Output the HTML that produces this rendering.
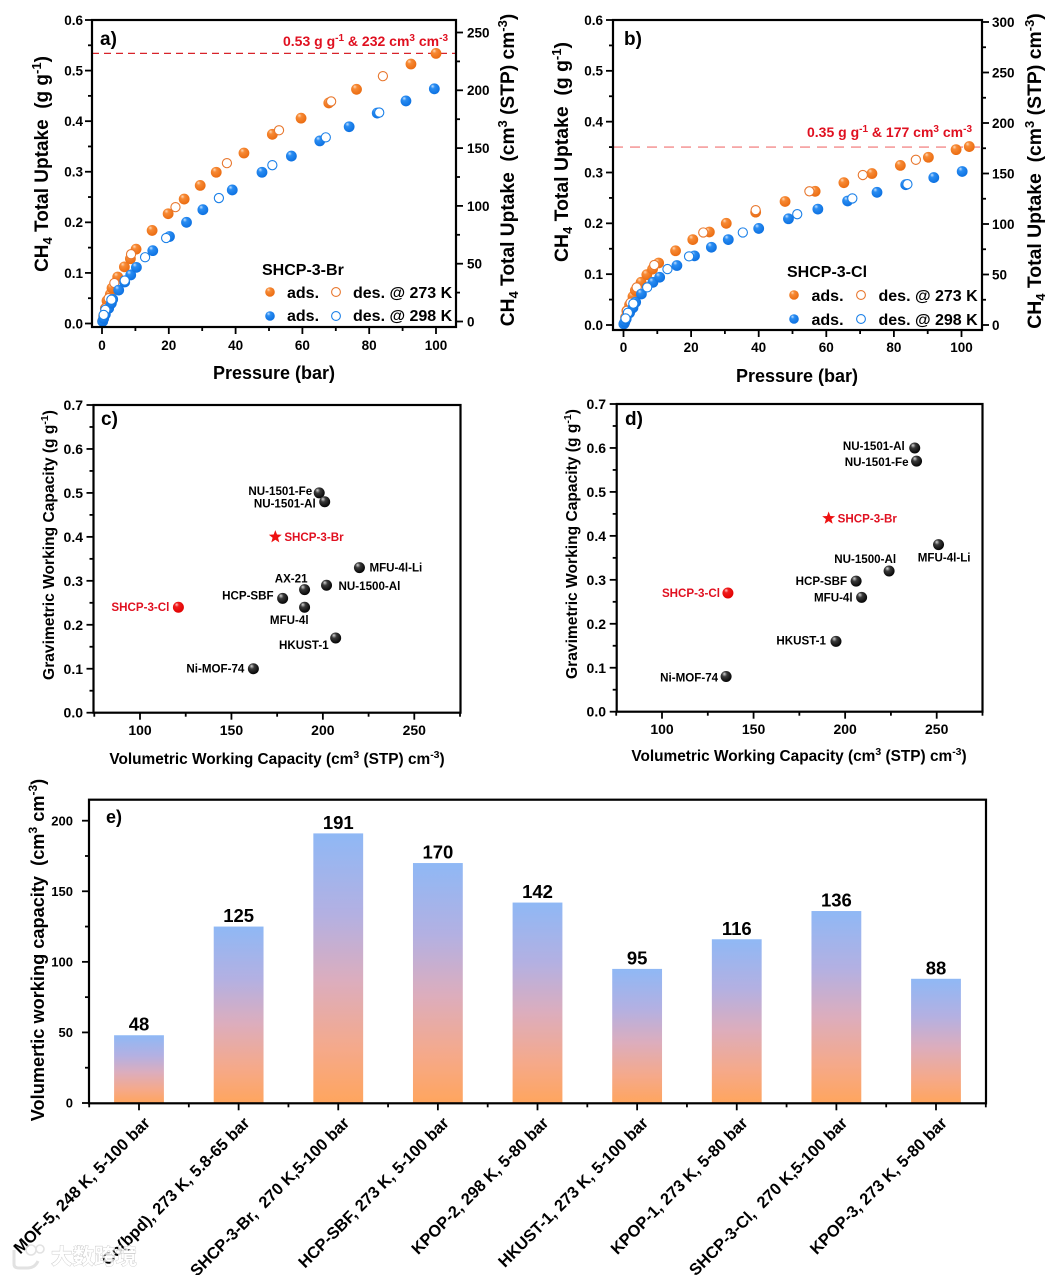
<!DOCTYPE html>
<html lang="en">
<head>
<meta charset="utf-8">
<title>CH4 uptake and working capacity charts</title>
<style>
html,body{margin:0;padding:0;background:#fff;}
body{width:1058px;height:1275px;overflow:hidden;}
svg{display:block;font-family:"Liberation Sans","Noto Sans CJK SC",sans-serif;font-weight:bold;fill:#000;}
text{white-space:pre;}
</style>
</head>
<body>
<svg id="figure" width="1058" height="1275" viewBox="0 0 1058 1275" xmlns="http://www.w3.org/2000/svg">
<defs>
<radialGradient id="ball-orange" cx="0.42" cy="0.38" r="0.65" fx="0.33" fy="0.25"><stop offset="0" stop-color="#ffd9b8"/><stop offset="0.3" stop-color="#f78a35"/><stop offset="1" stop-color="#ea6a0f"/></radialGradient>
<radialGradient id="ball-blue" cx="0.42" cy="0.38" r="0.65" fx="0.33" fy="0.25"><stop offset="0" stop-color="#c8e2ff"/><stop offset="0.3" stop-color="#2a8df2"/><stop offset="1" stop-color="#0b6fe0"/></radialGradient>
<radialGradient id="ball-black" cx="0.42" cy="0.38" r="0.65" fx="0.33" fy="0.25"><stop offset="0" stop-color="#d8d8d8"/><stop offset="0.35" stop-color="#3a3a3a"/><stop offset="1" stop-color="#000"/></radialGradient>
<radialGradient id="ball-red" cx="0.42" cy="0.38" r="0.65" fx="0.33" fy="0.25"><stop offset="0" stop-color="#ffc8c8"/><stop offset="0.3" stop-color="#f01c1c"/><stop offset="1" stop-color="#e00000"/></radialGradient>
<linearGradient id="bar-fill" x1="0" y1="0" x2="0" y2="1"><stop offset="0" stop-color="#8fb8f5"/><stop offset="0.3" stop-color="#b3b0e2"/><stop offset="0.55" stop-color="#dcadbd"/><stop offset="0.8" stop-color="#f5a98a"/><stop offset="1" stop-color="#ffa55e"/></linearGradient>
</defs>

<!-- Panel a static text -->
<text x="100" y="45" font-size="19">a)</text>
<text transform="rotate(-90 48 164)" x="48" y="164" text-anchor="middle" font-size="19">CH<tspan dy="4" font-size="13">4</tspan><tspan dy="-4"> Total Uptake  (g g</tspan><tspan dy="-7" font-size="13">-1</tspan><tspan dy="7">)</tspan></text>
<text transform="rotate(-90 514 170)" x="514" y="170" text-anchor="middle" font-size="19.2">CH<tspan dy="4" font-size="13">4</tspan><tspan dy="-4"> Total Uptake  (cm</tspan><tspan dy="-7" font-size="13">3</tspan><tspan dy="7"> (STP) cm</tspan><tspan dy="-7" font-size="13">-3</tspan><tspan dy="7">)</tspan></text>
<text x="274" y="379" text-anchor="middle" font-size="18">Pressure (bar)</text>
<text x="283" y="46" font-size="14" style="fill:#e01020">0.53 g g<tspan dy="-5" font-size="10">-1</tspan><tspan dy="5"> &amp; 232 cm</tspan><tspan dy="-5" font-size="10">3</tspan><tspan dy="5"> cm</tspan><tspan dy="-5" font-size="10">-3</tspan></text>
<g font-size="16">
<text x="262" y="275" font-size="16">SHCP-3-Br</text>
<circle cx="270" cy="292" r="4.8" fill="url(#ball-orange)"/>
<text x="287" y="298">ads.</text>
<circle cx="336" cy="292" r="4.4" fill="#fff" stroke="#e8772e" stroke-width="1.1"/>
<text x="353" y="298">des. @ 273 K</text>
<circle cx="270" cy="316" r="4.8" fill="url(#ball-blue)"/>
<text x="287" y="321">ads.</text>
<circle cx="336" cy="316" r="4.4" fill="#fff" stroke="#1b80e8" stroke-width="1.1"/>
<text x="353" y="321">des. @ 298 K</text>
</g>

<!-- Panel b static text -->
<text x="624" y="45" font-size="19">b)</text>
<text transform="rotate(-90 568 152)" x="568" y="152" text-anchor="middle" font-size="19.4">CH<tspan dy="4" font-size="13">4</tspan><tspan dy="-4"> Total Uptake  (g g</tspan><tspan dy="-7" font-size="13">-1</tspan><tspan dy="7">)</tspan></text>
<text transform="rotate(-90 1041 171)" x="1041" y="171" text-anchor="middle" font-size="19.4">CH<tspan dy="4" font-size="13">4</tspan><tspan dy="-4"> Total Uptake  (cm</tspan><tspan dy="-7" font-size="13">3</tspan><tspan dy="7"> (STP) cm</tspan><tspan dy="-7" font-size="13">-3</tspan><tspan dy="7">)</tspan></text>
<text x="797" y="382" text-anchor="middle" font-size="18">Pressure (bar)</text>
<text x="807" y="137" font-size="14" style="fill:#e01020">0.35 g g<tspan dy="-5" font-size="10">-1</tspan><tspan dy="5"> &amp; 177 cm</tspan><tspan dy="-5" font-size="10">3</tspan><tspan dy="5"> cm</tspan><tspan dy="-5" font-size="10">-3</tspan></text>
<g font-size="16">
<text x="787" y="277" font-size="16">SHCP-3-Cl</text>
<circle cx="794" cy="295" r="4.8" fill="url(#ball-orange)"/>
<text x="811.5" y="301">ads.</text>
<circle cx="861" cy="295" r="4.4" fill="#fff" stroke="#e8772e" stroke-width="1.1"/>
<text x="878.5" y="301">des. @ 273 K</text>
<circle cx="794" cy="319" r="4.8" fill="url(#ball-blue)"/>
<text x="811.5" y="325">ads.</text>
<circle cx="861" cy="319" r="4.4" fill="#fff" stroke="#1b80e8" stroke-width="1.1"/>
<text x="878.5" y="325">des. @ 298 K</text>
</g>

<!-- Panel c static text -->
<text x="101" y="425" font-size="19">c)</text>
<text transform="rotate(-90 54 545)" x="54" y="545" text-anchor="middle" font-size="15.6">Gravimetric Working Capacity (g g<tspan dy="-6" font-size="10.5">-1</tspan><tspan dy="6">)</tspan></text>
<text x="277" y="764" text-anchor="middle" font-size="15.4">Volumetric Working Capacity (cm<tspan dy="-6" font-size="10.5">3</tspan><tspan dy="6"> (STP) cm</tspan><tspan dy="-6" font-size="10.5">-3</tspan><tspan dy="6">)</tspan></text>

<!-- Panel d static text -->
<text x="625" y="425" font-size="19">d)</text>
<text transform="rotate(-90 577 544)" x="577" y="544" text-anchor="middle" font-size="15.6">Gravimetric Working Capacity (g g<tspan dy="-6" font-size="10.5">-1</tspan><tspan dy="6">)</tspan></text>
<text x="799" y="761" text-anchor="middle" font-size="15.4">Volumetric Working Capacity (cm<tspan dy="-6" font-size="10.5">3</tspan><tspan dy="6"> (STP) cm</tspan><tspan dy="-6" font-size="10.5">-3</tspan><tspan dy="6">)</tspan></text>

<!-- Panel e static text -->
<text x="106" y="823" font-size="18">e)</text>
<text transform="rotate(-90 44 950)" x="44" y="950" text-anchor="middle" font-size="18.2">Volumertic working capacity  (cm<tspan dy="-7" font-size="12">3</tspan><tspan dy="7"> cm</tspan><tspan dy="-7" font-size="12">-3</tspan><tspan dy="7">)</tspan></text>

<g id="plots"></g>

<!-- Watermark -->
<g opacity="0.85">
<path d="M14 1250 v14 q0 4 5 4 h8 q8 0 11 -7" fill="none" stroke="#ddd" stroke-width="3"/>
<circle cx="31" cy="1250" r="5" fill="none" stroke="#ddd" stroke-width="1.6"/>
<circle cx="40" cy="1249" r="4" fill="none" stroke="#ddd" stroke-width="1.6"/>
<text x="51" y="1264" font-size="21.5" style="fill:#fff;stroke:#bbb;stroke-width:0.8;paint-order:stroke">大数跨境</text>
</g>
</svg>

<script>
// ---------- Panel a values (SHCP-3-Br) ----------
const aAds273Pressure = [0.2,0.5,1,1.5,2.5,3,4.7,6.7,8.5,10.2,15,19.8,24.6,29.4,34.2,42.5,51,59.6,67.9,76.2,92.5,100];
const aAds273Uptake   = [0.005,0.015,0.03,0.045,0.058,0.07,0.092,0.112,0.128,0.147,0.184,0.217,0.246,0.273,0.299,0.337,0.374,0.406,0.436,0.463,0.513,0.534];
const aDes273Pressure = [84.1,68.6,53,37.4,22,8.7,3.7,2,1];
const aDes273Uptake   = [0.489,0.439,0.382,0.317,0.23,0.137,0.08,0.05,0.03];
const aAds298Pressure = [0.2,0.5,1,2,2.8,3.2,5,6.8,8.6,10.3,15.2,20.2,25.3,30.2,39,47.9,56.7,65.2,74,82.4,91,99.5];
const aAds298Uptake   = [0.004,0.01,0.018,0.03,0.04,0.048,0.066,0.082,0.096,0.111,0.144,0.172,0.2,0.225,0.264,0.299,0.331,0.361,0.389,0.416,0.44,0.464];
const aDes298Pressure = [83,67,51,35,19.2,12.9,6.8,2.8,1,0.5];
const aDes298Uptake   = [0.417,0.368,0.313,0.248,0.169,0.131,0.085,0.047,0.027,0.017];
const aPeakUptake = 0.534;

// ---------- Panel b values (SHCP-3-Cl) ----------
const bAds273Pressure = [0.2,0.6,1,1.8,2.8,3.5,5.2,6.9,8.6,10.4,15.4,20.5,25.4,30.4,39.1,47.8,56.7,65.2,73.5,81.9,90.2,98.4,102.3];
const bAds273Uptake   = [0.003,0.015,0.028,0.04,0.056,0.068,0.084,0.099,0.11,0.122,0.146,0.168,0.183,0.2,0.222,0.243,0.263,0.28,0.298,0.314,0.33,0.345,0.351];
const bDes273Pressure = [86.5,70.8,55,39.1,23.6,9.1,3.9,2.1,1];
const bDes273Uptake   = [0.325,0.295,0.263,0.226,0.182,0.118,0.074,0.044,0.028];
const bAds298Pressure = [0.1,0.4,0.8,1.8,2.8,3.6,5.3,8.7,10.7,15.8,21,26,31,40,48.8,57.5,66.3,75,83.5,91.8,100.2];
const bAds298Uptake   = [0.002,0.006,0.012,0.024,0.034,0.045,0.061,0.084,0.094,0.117,0.136,0.153,0.168,0.19,0.209,0.228,0.244,0.261,0.276,0.29,0.302];
const bDes298Pressure = [84,67.7,51.4,35.3,19.4,13,7,2.9,1.3,0.6];
const bDes298Uptake   = [0.277,0.249,0.218,0.182,0.135,0.11,0.074,0.042,0.024,0.013];
const bPeakUptake = 0.35;

// ---------- Shared tick labels for isotherms ----------
const uptakeTicks = [0,0.1,0.2,0.3,0.4,0.5,0.6];
const uptakeTickLabels = ['0.0','0.1','0.2','0.3','0.4','0.5','0.6'];
const pressureTicks = [0,20,40,60,80,100];
const pressureTickLabels = ['0','20','40','60','80','100'];
const aVolumetricTicks = [0,50,100,150,200,250];
const aVolumetricTickLabels = ['0','50','100','150','200','250'];
const bVolumetricTicks = [0,50,100,150,200,250,300];
const bVolumetricTickLabels = ['0','50','100','150','200','250','300'];

// ---------- Panel c values ----------
const cNames = ['NU-1501-Fe','NU-1501-Al','SHCP-3-Br','MFU-4l-Li','NU-1500-Al','AX-21','HCP-SBF','MFU-4l','HKUST-1','Ni-MOF-74','SHCP-3-Cl'];
const cVolumetric = [198,201,174,220,202,190,178,190,207,162,121];
const cGravimetric = [0.5,0.48,0.4,0.33,0.29,0.28,0.26,0.24,0.17,0.1,0.24];

// ---------- Panel d values ----------
const dNames = ['NU-1501-Al','NU-1501-Fe','SHCP-3-Br','MFU-4l-Li','NU-1500-Al','HCP-SBF','MFU-4l','HKUST-1','Ni-MOF-74','SHCP-3-Cl'];
const dVolumetric = [238,239,191,251,224,206,209,195,135,136];
const dGravimetric = [0.6,0.57,0.44,0.38,0.32,0.297,0.26,0.16,0.08,0.27];

const workingVolTicks = [100,150,200,250];
const workingVolTickLabels = ['100','150','200','250'];
const workingGravTicks = [0,0.1,0.2,0.3,0.4,0.5,0.6,0.7];
const workingGravTickLabels = ['0.0','0.1','0.2','0.3','0.4','0.5','0.6','0.7'];

// ---------- Panel e values ----------
const eCategories = ['MOF-5, 248 K, 5-100 bar','Co(bpd), 273 K, 5.8-65 bar','SHCP-3-Br,  270 K,5-100 bar','HCP-SBF, 273 K, 5-100 bar','KPOP-2, 298 K, 5-80 bar','HKUST-1, 273 K, 5-100 bar','KPOP-1, 273 K, 5-80 bar','SHCP-3-Cl,  270 K,5-100 bar','KPOP-3, 273 K, 5-80 bar'];
const eValues = [48,125,191,170,142,95,116,136,88];
const eTicks = [0,50,100,150,200];
const eTickLabels = ['0','50','100','150','200'];

// ---------- Drawing ----------
const NS = 'http://www.w3.org/2000/svg';
const root = document.getElementById('plots');

function make(tag, attrs, parent) {
  const node = document.createElementNS(NS, tag);
  for (const k in attrs) node.setAttribute(k, attrs[k]);
  (parent || root).appendChild(node);
  return node;
}

function linear(d0, d1, r0, r1) {
  return function (v) { return r0 + (v - d0) * (r1 - r0) / (d1 - d0); };
}

function drawTick(g, x1, y1, x2, y2, name) {
  const t = make('line', {x1: x1, y1: y1, x2: x2, y2: y2, stroke: '#000', 'stroke-width': 1.8}, g);
  
  
}

function drawTickLabel(g, x, y, label, anchor, size, name) {
  const t = make('text', {x: x, y: y, 'text-anchor': anchor, 'font-size': size}, g);
  t.textContent = label;
  
  
}

function drawFrame(g, box, name) {
  const r = make('rect', {x: box.left, y: box.top, width: box.right - box.left, height: box.bottom - box.top, fill: 'none', stroke: '#000', 'stroke-width': 2.2}, g);
  
  
}

function bottomAxis(g, scale, ticks, labels, box, o) {
  ticks.forEach(function (v, i) {
    drawTick(g, scale(v), box.bottom, scale(v), box.bottom + 7, 'x-tick');
    drawTickLabel(g, scale(v), o.labelY, labels[i], 'middle', o.size, 'x-tick-label');
  });
  for (let v = o.minorFrom; v <= o.minorTo; v += o.minorStep) {
    drawTick(g, scale(v), box.bottom, scale(v), box.bottom + 4, 'x-minor-tick');
  }
}

function leftAxis(g, scale, ticks, labels, box, o) {
  ticks.forEach(function (v, i) {
    drawTick(g, box.left - 7, scale(v), box.left, scale(v), 'y-tick');
    drawTickLabel(g, o.labelX, scale(v) + o.size * 0.36, labels[i], 'end', o.size, 'y-tick-label');
  });
  for (let v = o.minorFrom; v <= o.minorTo + 1e-9; v += o.minorStep) {
    drawTick(g, box.left - 4, scale(v), box.left, scale(v), 'y-minor-tick');
  }
}

function rightAxis(g, scale, ticks, labels, box, o) {
  ticks.forEach(function (v, i) {
    drawTick(g, box.right, scale(v), box.right + 7, scale(v), 'right-y-tick');
    drawTickLabel(g, o.labelX, scale(v) + o.size * 0.36, labels[i], 'start', o.size, 'right-y-tick-label');
  });
  for (let v = o.minorFrom; v <= o.minorTo; v += o.minorStep) {
    drawTick(g, box.right, scale(v), box.right + 4, scale(v), 'right-y-minor-tick');
  }
}

function filledSeries(g, xs, ys, sx, sy, fill, name) {
  xs.forEach(function (x, i) {
    const c = make('circle', {cx: sx(x), cy: sy(ys[i]), r: 5.4, fill: fill}, g);
    
    
  });
}

function hollowSeries(g, xs, ys, sx, sy, color, name) {
  xs.forEach(function (x, i) {
    const c = make('circle', {cx: sx(x), cy: sy(ys[i]), r: 4.6, fill: '#fff', stroke: color, 'stroke-width': 1.1}, g);
    
    
  });
}

function isotherm(panel, box, xDomain, yDomain, rightDomain, rightTicks, rightLabels, rightMinorTo, labelX, rightLabelX, xLabelY, series, peak, dash) {
  const g = make('g', {});
  
  
  const sx = linear(0, 100, xDomain[0], xDomain[1]);
  const sy = linear(0, 0.6, yDomain[0], yDomain[1]);
  const sr = linear(rightDomain[0], rightDomain[1], rightDomain[2], rightDomain[3]);
  const peakLine = make('line', {x1: box.left, x2: box.right, y1: sy(peak), y2: sy(peak), stroke: dash.color, 'stroke-width': 1.2, 'stroke-dasharray': dash.pattern}, g);
  
  
  filledSeries(g, series.ads273x, series.ads273y, sx, sy, 'url(#ball-orange)', 'ads-273k-point');
  hollowSeries(g, series.des273x, series.des273y, sx, sy, '#e8772e', 'des-273k-point');
  filledSeries(g, series.ads298x, series.ads298y, sx, sy, 'url(#ball-blue)', 'ads-298k-point');
  hollowSeries(g, series.des298x, series.des298y, sx, sy, '#1b80e8', 'des-298k-point');
  drawFrame(g, box, panel + '-frame');
  bottomAxis(g, sx, pressureTicks, pressureTickLabels, box, {labelY: xLabelY, size: 13.5, minorFrom: 10, minorTo: 100, minorStep: 20});
  leftAxis(g, sy, uptakeTicks, uptakeTickLabels, box, {labelX: labelX, size: 13.5, minorFrom: 0.05, minorTo: 0.55, minorStep: 0.1});
  rightAxis(g, sr, rightTicks, rightLabels, box, {labelX: rightLabelX, size: 13.5, minorFrom: 25, minorTo: rightMinorTo, minorStep: 50});
}

isotherm('panel-a', {left: 92, right: 456, top: 20, bottom: 327},
  [102, 436], [323.5, 20], [0, 250, 321.5, 32.5], aVolumetricTicks, aVolumetricTickLabels, 225, 83, 467, 350,
  {ads273x: aAds273Pressure, ads273y: aAds273Uptake, des273x: aDes273Pressure, des273y: aDes273Uptake,
   ads298x: aAds298Pressure, ads298y: aAds298Uptake, des298x: aDes298Pressure, des298y: aDes298Uptake},
  aPeakUptake, {color: '#d8232a', pattern: '7 5'});

isotherm('panel-b', {left: 613, right: 982, top: 20, bottom: 330},
  [623.5, 961.5], [325, 20], [0, 300, 325, 22], bVolumetricTicks, bVolumetricTickLabels, 275, 603, 992, 352,
  {ads273x: bAds273Pressure, ads273y: bAds273Uptake, des273x: bDes273Pressure, des273y: bDes273Uptake,
   ads298x: bAds298Pressure, ads298y: bAds298Uptake, des298x: bDes298Pressure, des298y: bDes298Uptake},
  bPeakUptake, {color: '#f07070', pattern: '10 7'});

function starPoints(cx, cy, R) {
  const pts = [];
  for (let i = 0; i < 10; i++) {
    const a = -Math.PI / 2 + i * Math.PI / 5;
    const rad = i % 2 === 0 ? R : R * 0.42;
    pts.push((cx + rad * Math.cos(a)).toFixed(2) + ',' + (cy + rad * Math.sin(a)).toFixed(2));
  }
  return pts.join(' ');
}

function labelPlacement(panel, name) {
  const map = {
    c: {'NU-1501-Fe': ['end', -7, -2], 'NU-1501-Al': ['end', -9, 2], 'SHCP-3-Br': ['start', 9, 0], 'MFU-4l-Li': ['start', 10, 0], 'NU-1500-Al': ['start', 12, 1], 'AX-21': ['end', 3, -11], 'HCP-SBF': ['end', -9, -3], 'MFU-4l': ['end', 4, 13], 'HKUST-1': ['end', -7, 7], 'Ni-MOF-74': ['end', -9, 0], 'SHCP-3-Cl': ['end', -9, 0]},
    d: {'NU-1501-Al': ['end', -10, -2], 'NU-1501-Fe': ['end', -8, 1], 'SHCP-3-Br': ['start', 9, 0], 'MFU-4l-Li': ['end', 32, 13], 'NU-1500-Al': ['end', 7, -12], 'HCP-SBF': ['end', -9, 0], 'MFU-4l': ['end', -9, 0], 'HKUST-1': ['end', -10, -1], 'Ni-MOF-74': ['end', -8, 1], 'SHCP-3-Cl': ['end', -8, 0]}
  };
  return map[panel][name];
}

function workingScatter(panel, box, xRange, yRange, labelX, xLabelY, names, xs, ys) {
  const g = make('g', {});
  
  
  const sx = linear(100, 250, xRange[0], xRange[1]);
  const sy = linear(0, 0.7, yRange[0], yRange[1]);
  names.forEach(function (name, i) {
    const cx = sx(xs[i]), cy = sy(ys[i]);
    const red = name.indexOf('SHCP') === 0;
    let mark;
    if (name === 'SHCP-3-Br') {
      mark = make('polygon', {points: starPoints(cx, cy, 6.8), fill: '#ee1111'}, g);
    } else {
      mark = make('circle', {cx: cx, cy: cy, r: 5.5, fill: red ? 'url(#ball-red)' : 'url(#ball-black)'}, g);
    }
    
    
    const p = labelPlacement(panel, name);
    const t = make('text', {x: cx + p[1], y: cy + p[2] + 4, 'text-anchor': p[0], 'font-size': 11.6}, g);
    t.textContent = name;
    if (red) t.style.fill = '#e01020';
    
    
  });
  drawFrame(g, box, 'panel-' + panel + '-frame');
  bottomAxis(g, sx, workingVolTicks, workingVolTickLabels, box, {labelY: xLabelY, size: 14, minorFrom: 75, minorTo: 275, minorStep: 50});
  leftAxis(g, sy, workingGravTicks, workingGravTickLabels, box, {labelX: labelX, size: 14, minorFrom: 0.05, minorTo: 0.65, minorStep: 0.1});
}

workingScatter('c', {left: 93.5, right: 460.5, top: 405, bottom: 712.7}, [140, 414.3], [712.7, 405], 83, 735, cNames, cVolumetric, cGravimetric);
workingScatter('d', {left: 616.7, right: 982.5, top: 404, bottom: 711.7}, [662, 936.7], [711.7, 404], 606, 734, dNames, dVolumetric, dGravimetric);

(function drawBars() {
  const box = {left: 89, right: 986, top: 799.7, bottom: 1103.3};
  const g = make('g', {});
  
  
  const sy = linear(0, 200, 1103, 820.7);
  const center = linear(0, 8, 139, 936);
  const step = center(1) - center(0);
  const barWidth = step * 0.5;
  eValues.forEach(function (v, i) {
    const cx = center(i);
    const bar = make('rect', {x: cx - barWidth / 2, y: sy(v), width: barWidth, height: sy(0) - sy(v), fill: 'url(#bar-fill)'}, g);
    
    
    const val = make('text', {x: cx, y: sy(v) - 4.5, 'text-anchor': 'middle', 'font-size': 18.5}, g);
    val.textContent = String(v);
    
    
    drawTick(g, cx, box.bottom, cx, box.bottom + 7, 'x-tick');
    drawTick(g, cx - step / 2, box.bottom, cx - step / 2, box.bottom + 4, 'x-minor-tick');
    if (i === eValues.length - 1) drawTick(g, cx + step / 2, box.bottom, cx + step / 2, box.bottom + 4, 'x-minor-tick');
    const ax = cx + 12, ay = 1124;
    const cat = make('text', {x: ax, y: ay, 'text-anchor': 'end', 'font-size': 16.4, transform: 'rotate(-45 ' + ax + ' ' + ay + ')'}, g);
    cat.textContent = eCategories[i];
    
    
  });
  drawFrame(g, box, 'panel-e-frame');
  leftAxis(g, sy, eTicks, eTickLabels, box, {labelX: 73, size: 13, minorFrom: 25, minorTo: 175, minorStep: 50});
})();
</script>
</body>
</html>
